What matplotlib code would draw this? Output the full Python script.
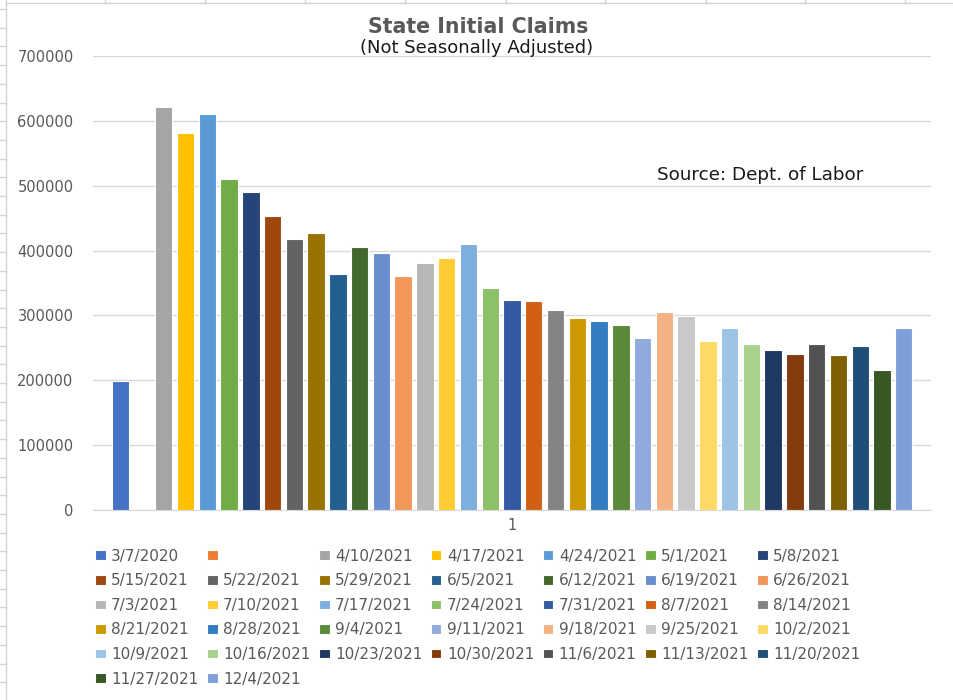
import matplotlib
matplotlib.use("Agg")
import matplotlib.pyplot as plt
from matplotlib.lines import Line2D
import numpy as np

# weekly state initial claims, not seasonally adjusted (second series left blank)
weeks = [
    "3/7/2020", "", "4/10/2021", "4/17/2021", "4/24/2021", "5/1/2021", "5/8/2021",
    "5/15/2021", "5/22/2021", "5/29/2021", "6/5/2021", "6/12/2021", "6/19/2021", "6/26/2021",
    "7/3/2021", "7/10/2021", "7/17/2021", "7/24/2021", "7/31/2021", "8/7/2021", "8/14/2021",
    "8/21/2021", "8/28/2021", "9/4/2021", "9/11/2021", "9/18/2021", "9/25/2021", "10/2/2021",
    "10/9/2021", "10/16/2021", "10/23/2021", "10/30/2021", "11/6/2021", "11/13/2021", "11/20/2021",
    "11/27/2021", "12/4/2021",
]
claims = [
    199000, 0, 621000, 582000, 610000, 511000, 491000,
    453000, 418000, 427000, 364000, 406000, 396000, 361000,
    381000, 389000, 410000, 342000, 324000, 322000, 309000,
    296000, 292000, 285000, 265000, 305000, 299000, 261000,
    280000, 256000, 246000, 241000, 256000, 239000, 253000,
    216000, 280000,
]
colors = [
    "#4472C4", "#ED7D31", "#A5A5A5", "#FFC000", "#5B9BD5", "#70AD47", "#264478",
    "#9E480E", "#636363", "#997300", "#255E91", "#43682B", "#698ED0", "#F1975A",
    "#B7B7B7", "#FFCD33", "#7CAFDD", "#8CC168", "#335AA1", "#D26012", "#848484",
    "#CC9A00", "#327DC2", "#5A8A39", "#8FAADC", "#F4B183", "#C9C9C9", "#FFD966",
    "#9DC3E6", "#A9D18E", "#203864", "#843C0C", "#525252", "#7F6000", "#1F4E79",
    "#385723", "#7F9FD8",
]
category = "1"

W, H = 954, 700
fig = plt.figure(figsize=(W / 100, H / 100), dpi=100)
fig.patch.set_facecolor("white")

# spreadsheet cells peeking out behind the chart
grid_c = "#D4D4D4"
fig.add_artist(Line2D([6 / W, 6 / W], [0, 1], color=grid_c, lw=1))
fig.add_artist(Line2D([6 / W, 1], [1 - 3 / H, 1 - 3 / H], color=grid_c, lw=1))
for y in np.arange(9, H, 18.7):
    fig.add_artist(Line2D([0, 6 / W], [1 - y / H] * 2, color=grid_c, lw=1))
for x in np.arange(105.5, W, 100):
    fig.add_artist(Line2D([x / W] * 2, [1 - 3 / H, 1], color=grid_c, lw=1))

ax = fig.add_axes([93 / W, 1 - 510 / H, (931 - 93) / W, (510 - 56) / H])

n = len(claims)
xpos = np.arange(n)
handles = []
for i in range(n):
    b = ax.bar(xpos[i], claims[i], width=0.8, color=colors[i],
               edgecolor="white", linewidth=0.8, zorder=3)
    handles.append(b[0])

ax.set_xlim(-1.25, n - 1 + 1.25)
ax.set_ylim(0, 700000)
ax.set_yticks(np.arange(0, 700001, 100000))
ax.set_yticklabels([str(v) for v in range(0, 700001, 100000)])
ax.set_xticks([(n - 1) / 2])
ax.set_xticklabels([category])
ax.grid(axis="y", color="#D9D9D9", lw=1, zorder=0)
for s in ["top", "right", "left"]:
    ax.spines[s].set_visible(False)
ax.spines["bottom"].set_color("#D9D9D9")
ax.tick_params(axis="y", length=0, pad=14, labelsize=10.5, labelcolor="#595959")
ax.tick_params(axis="x", length=0, pad=6, labelsize=10.5, labelcolor="#595959")

fig.text(478 / W, 1 - 27 / H, "State Initial Claims", ha="center", va="center",
         fontsize=14.8, fontweight="bold", color="#595959")
fig.text(477 / W, 1 - 48 / H, "(Not Seasonally Adjusted)", ha="center", va="center",
         fontsize=13, color="#1A1A1A")
fig.text(657 / W, 1 - 175 / H, "Source: Dept. of Labor", ha="left", va="center",
         fontsize=13.2, color="#1A1A1A")

# excel fills the legend row by row, matplotlib column by column
ncol = 7
order = [i for c in range(ncol) for i in range(c, n, ncol)]
leg = fig.legend([handles[i] for i in order], [weeks[i] for i in order],
                 ncol=ncol, loc="upper left", bbox_to_anchor=(95 / W, 1 - 548.5 / H),
                 frameon=False, fontsize=11, handlelength=0.7, handleheight=0.6,
                 handletextpad=0.35, columnspacing=0.56, labelspacing=0.63,
                 borderpad=0, borderaxespad=0)
for t in leg.get_texts():
    t.set_color("#595959")

fig.savefig("out.png", dpi=100)
